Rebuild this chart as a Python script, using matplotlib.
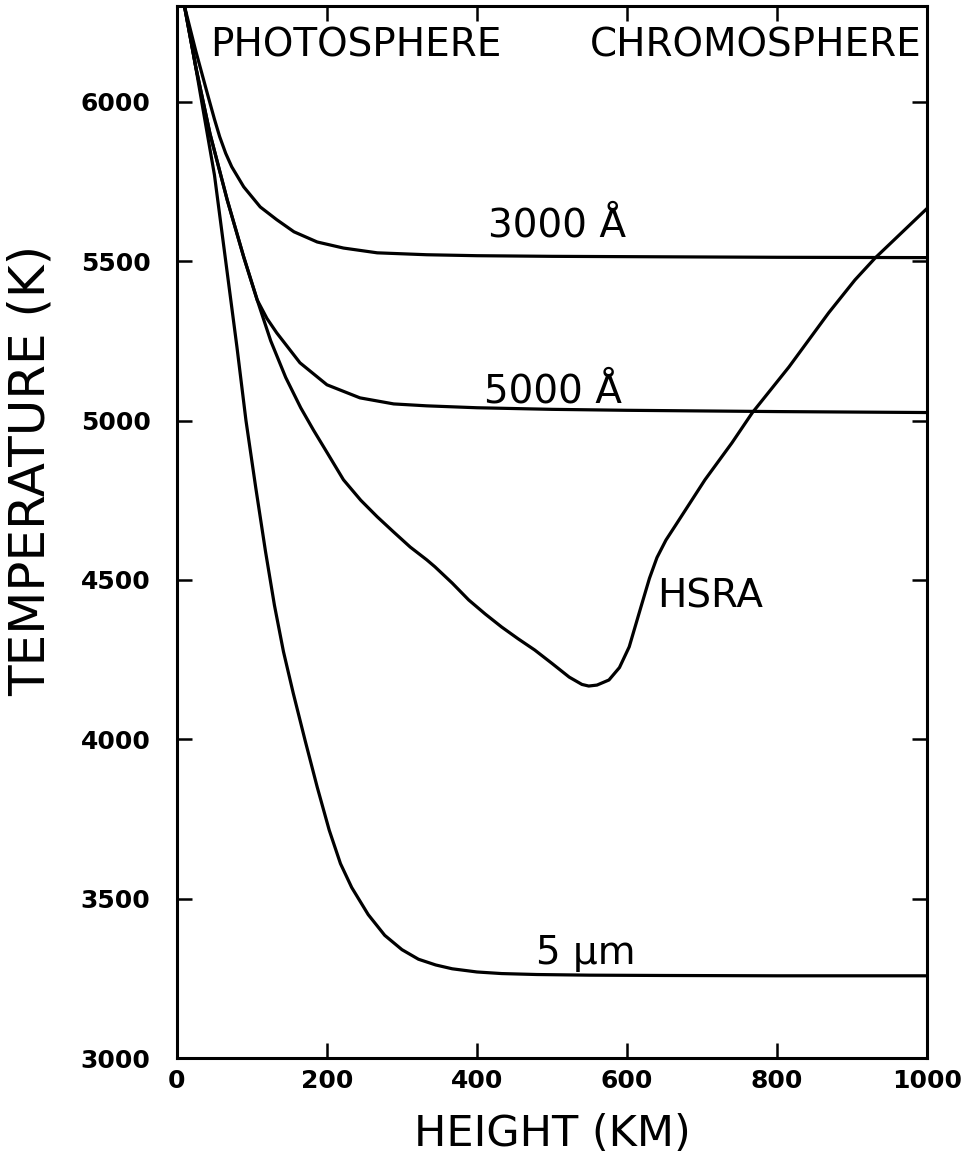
import numpy as np
import matplotlib
matplotlib.use('Agg')
import matplotlib.pyplot as plt

# Heights (km) and brightness / model temperatures (K)
h_5um = [10, 22, 33, 50, 65, 80, 92, 105, 118, 130, 142, 155, 171, 187, 203, 218, 233,
         255, 277, 300, 322, 345, 367, 400, 433, 480, 550, 650, 800, 1000]
t_5um = [6300, 6150, 6000, 5770, 5500, 5230, 5000, 4790, 4590, 4420, 4275, 4145, 3995,
         3850, 3715, 3610, 3535, 3450, 3385, 3340, 3310, 3292, 3280, 3270, 3265, 3262,
         3260, 3259, 3258, 3258]

h_3000 = [10, 25, 40, 50, 57, 65, 73, 89, 111, 133, 156, 187, 222, 267, 333, 400,
          500, 600, 800, 1000]
t_3000 = [6300, 6160, 6030, 5945, 5890, 5838, 5796, 5733, 5670, 5630, 5592, 5560,
          5541, 5526, 5520, 5517, 5515, 5514, 5512, 5511]

h_5000 = [10, 25, 44, 67, 89, 107, 120, 133, 164, 200, 244, 289, 333, 400, 500, 600,
          800, 1000]
t_5000 = [6300, 6110, 5900, 5692, 5513, 5378, 5320, 5275, 5181, 5112, 5071, 5052,
          5046, 5040, 5035, 5032, 5028, 5025]

h_hsra = [10, 25, 44, 67, 89, 107, 125, 145, 165, 182, 200, 222, 245, 267, 289, 311,
          333, 344, 367, 389, 411, 433, 455, 477, 500, 523, 540, 549, 560, 576, 590,
          603, 618, 630, 640, 652, 665, 704, 740, 767, 816, 869, 904, 931, 1000]
t_hsra = [6300, 6110, 5900, 5692, 5513, 5378, 5250, 5135, 5040, 4970, 4900, 4814,
          4750, 4698, 4650, 4603, 4563, 4541, 4490, 4437, 4393, 4352, 4315, 4280, 4238,
          4195, 4172, 4167, 4170, 4186, 4225, 4290, 4410, 4505, 4570, 4625, 4672, 4814,
          4930, 5024, 5168, 5338, 5441, 5510, 5665]

x_ticks = [0, 200, 400, 600, 800, 1000]
y_ticks = [3000, 3500, 4000, 4500, 5000, 5500, 6000]

fig = plt.figure(figsize=(9.67, 11.73), dpi=100)
ax = fig.add_axes([0.183, 0.098, 0.7756, 0.8968])

for h, t in [(h_5um, t_5um), (h_3000, t_3000), (h_5000, t_5000), (h_hsra, t_hsra)]:
    ax.plot(h, t, color='black', lw=2.3, solid_capstyle='round', solid_joinstyle='round')

ax.set_xlim(0, 1000)
ax.set_ylim(3000, 6300)
ax.set_xticks(x_ticks)
ax.set_yticks(y_ticks)
ax.tick_params(direction='in', length=11, width=1.8, top=True, right=True,
               labelsize=18)
ax.tick_params(axis='x', pad=8)
ax.tick_params(axis='y', pad=19)
for lab in ax.get_xticklabels() + ax.get_yticklabels():
    lab.set_fontweight('bold')
for s in ax.spines.values():
    s.set_linewidth(2.2)

ax.set_xlabel('HEIGHT (KM)', fontsize=31, labelpad=14)
ax.set_ylabel('TEMPERATURE (K)', fontsize=36)
ax.yaxis.set_label_coords(-0.163, 0.559)

tkw = dict(fontsize=28, color='black')
ax.text(44, 6175, 'PHOTOSPHERE', ha='left', va='center', **tkw)
ax.text(993, 6175, 'CHROMOSPHERE', ha='right', va='center', **tkw)
ax.text(415, 5576, '3000 Å', ha='left', va='baseline', **tkw)
ax.text(409, 5058, '5000 Å', ha='left', va='baseline', **tkw)
ax.text(640, 4412, 'HSRA', ha='left', va='baseline', **tkw)
ax.text(479, 3296, '5 µm', ha='left', va='baseline', **tkw)

fig.savefig('out.png', dpi=100)
